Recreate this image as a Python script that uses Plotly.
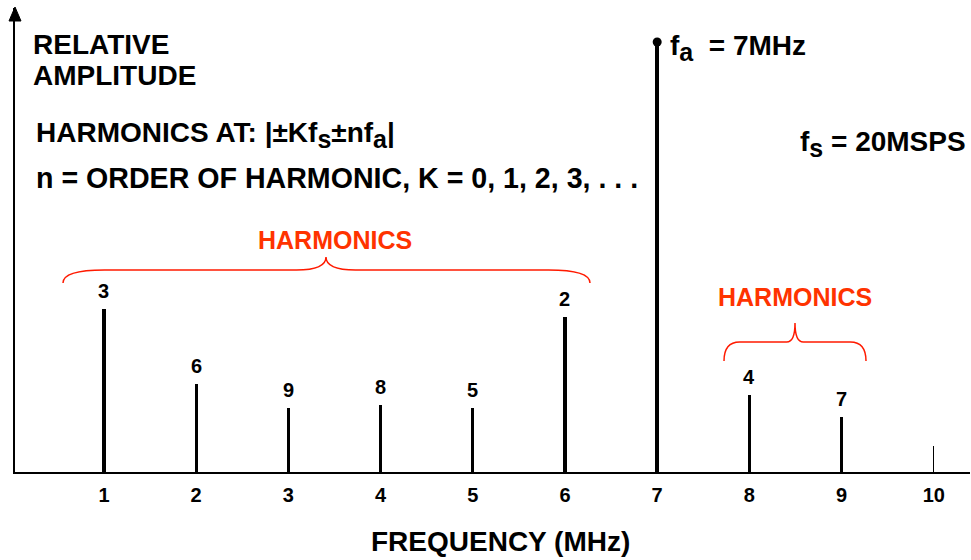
import plotly.graph_objects as go

# ---------------- data ----------------
freq_mhz = [1, 2, 3, 4, 5, 6, 7, 8, 9]
rel_amplitude = [0.38, 0.205, 0.148, 0.155, 0.148, 0.36, 1.0, 0.178, 0.128]
harmonic_order = ["3", "6", "9", "8", "5", "2", "", "4", "7"]
tick_vals = [1, 2, 3, 4, 5, 6, 7, 8, 9, 10]
tick_text = ["1", "2", "3", "4", "5", "6", "7", "8", "9", "10"]
fundamental_freq = 7

# ---------------- geometry helpers (layout only) ----------------
W, H = 971, 560
ML, MR, MT, MB = 15, 1, 8, 88
PX_PER_X = 92.2
PX_PER_Y = 430.0
X0 = 0.035
X1 = X0 + (W - ML - MR) / PX_PER_X
Y1 = (H - MT - MB) / PX_PER_Y
BASE_PY = H - MB  # pixel row of y=0
PLOT_H = H - MT - MB


def px2x(px):
    return X0 + (px - ML) / PX_PER_X


def py2y(py):
    return (BASE_PY - py) / PX_PER_Y


FONT = "Liberation Sans, Arial, sans-serif"
RED_TEXT = "#FF3300"
RED_LINE = "#FF1A00"


def sub(s, size=25):
    return f"<sub><span style='font-size:{size}px'>{s}</span></sub>"


fig = go.Figure()

widths = [0.05 if f == fundamental_freq else 0.036 for f in freq_mhz]
fig.add_trace(go.Bar(
    x=freq_mhz, y=rel_amplitude, width=widths,
    marker=dict(color="black", line=dict(width=0)),
    hoverinfo="x+y", showlegend=False,
))

# dot on top of the fundamental
fa_amp = rel_amplitude[freq_mhz.index(fundamental_freq)]
fig.add_trace(go.Scatter(
    x=[fundamental_freq], y=[fa_amp], mode="markers",
    marker=dict(color="black", size=9), showlegend=False, hoverinfo="skip",
    cliponaxis=False,
))

annotations = []
for f, a, lab in zip(freq_mhz, rel_amplitude, harmonic_order):
    if lab:
        annotations.append(dict(
            x=f, y=a, text=lab, showarrow=False, yanchor="bottom", yshift=5,
            font=dict(family=FONT, size=20, color="black", weight="bold"),
        ))


def txt(text, px, py, size, xanchor="left", color="black"):
    annotations.append(dict(
        x=px2x(px), y=py2y(py), xref="x", yref="y", text=text, showarrow=False,
        xanchor=xanchor, yanchor="middle",
        font=dict(family=FONT, size=size, color=color, weight="bold"),
    ))


txt("RELATIVE", 31, 44, 28)
txt("AMPLITUDE", 31, 75, 28)
txt("HARMONICS AT: |±Kf" + sub("s") + "±nf" + sub("a") + "|", 34, 135, 28)
txt("n = ORDER OF HARMONIC, K = 0, 1, 2, 3, . . .", 34, 178, 28.6)
txt("f" + sub("a") + "  = 7MHz", 668, 48, 28)
txt("f" + sub("s") + " = 20MSPS", 968, 144, 28, xanchor="right")
txt("HARMONICS", 335, 240, 25, xanchor="center", color=RED_TEXT)
txt("HARMONICS", 795, 297, 25, xanchor="center", color=RED_TEXT)

annotations.append(dict(
    x=px2x(500), y=(BASE_PY - 559) / PLOT_H, xref="x", yref="paper",
    text="FREQUENCY (MHz)", showarrow=False, xanchor="center", yanchor="bottom",
    font=dict(family=FONT, size=28, color="black", weight="bold"),
))


def brace(x_left, x_right, x_cusp, y_end, y_flat, y_cusp, dx_end, dx_cusp):
    return (
        f"M {x_left},{y_end} Q {x_left},{y_flat} {x_left + dx_end},{y_flat} "
        f"L {x_cusp - dx_cusp},{y_flat} Q {x_cusp},{y_flat} {x_cusp},{y_cusp} "
        f"Q {x_cusp},{y_flat} {x_cusp + dx_cusp},{y_flat} "
        f"L {x_right - dx_end},{y_flat} Q {x_right},{y_flat} {x_right},{y_end}"
    )


shapes = [
    dict(type="path", xref="x", yref="y",
         path=brace(px2x(63), px2x(590), px2x(326), py2y(283), py2y(270), py2y(257),
                    0.45, 0.32),
         line=dict(color=RED_LINE, width=1.5)),
    dict(type="path", xref="x", yref="y",
         path=brace(px2x(724), px2x(866), px2x(795), py2y(361), py2y(342), py2y(323),
                    0.17, 0.09),
         line=dict(color=RED_LINE, width=1.5)),
    # arrow head of the y axis
    dict(type="path", xref="paper", yref="paper",
         path="M {0},{1} L {2},{3} L {4},{3} Z".format(
             0.0, (BASE_PY - 7) / PLOT_H,
             -6 / (W - ML - MR), (BASE_PY - 21) / PLOT_H,
             6 / (W - ML - MR)),
         fillcolor="black", line=dict(color="black", width=1)),
]

fig.update_layout(
    width=W, height=H,
    margin=dict(l=ML, r=MR, t=MT, b=MB, pad=0),
    paper_bgcolor="white", plot_bgcolor="white",
    showlegend=False,
    annotations=annotations,
    shapes=shapes,
    xaxis=dict(
        range=[X0, X1], showgrid=False, zeroline=False,
        showline=True, linecolor="black", linewidth=1.5,
        tickvals=tick_vals, ticktext=tick_text,
        ticks="inside", ticklen=26, tickwidth=1.2, tickcolor="black",
        ticklabelstandoff=4,
        tickfont=dict(family=FONT, size=20, color="black", weight="bold"),
        fixedrange=True,
    ),
    yaxis=dict(
        range=[0, Y1], showgrid=False, zeroline=False,
        showline=True, linecolor="black", linewidth=1.5,
        showticklabels=False, ticks="", fixedrange=True,
    ),
    bargap=0,
)

fig.write_html(
    "out.html",
    config={"displayModeBar": False},
    post_script="document.body.style.margin='0';document.body.style.overflow='hidden';",
)
